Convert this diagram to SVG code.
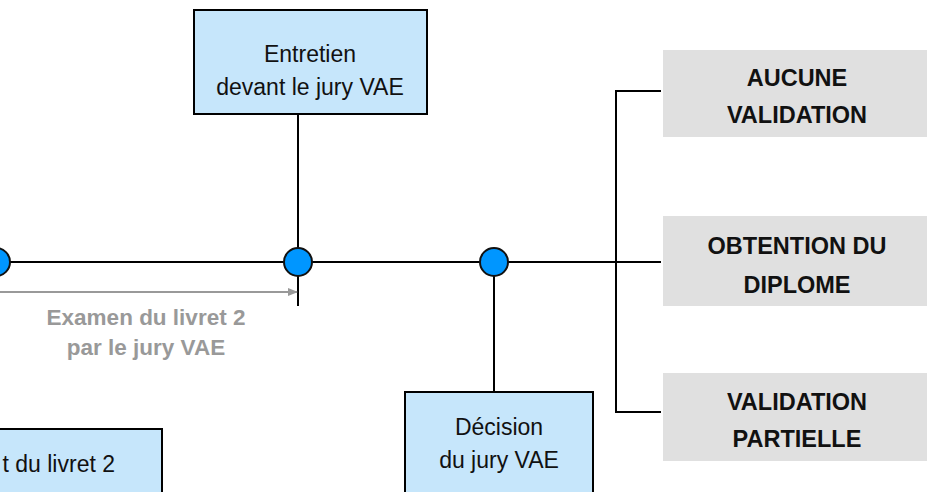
<svg xmlns="http://www.w3.org/2000/svg" width="927" height="492" viewBox="0 0 927 492">
<defs>
<style>
.blue{fill:#C6E6FB;stroke:#000;stroke-width:2}
.gray{fill:#E0E0E0;stroke:none}
.dot{fill:#0096FF;stroke:#111;stroke-width:2}
.ln{stroke:#000;stroke-width:2;fill:none}
.t{font-family:"Liberation Sans",Arial,sans-serif;font-size:23px;fill:#111;text-anchor:middle}
.b{font-family:"Liberation Sans",Arial,sans-serif;font-size:23.5px;font-weight:bold;fill:#111;text-anchor:middle}
.g{font-family:"Liberation Sans",Arial,sans-serif;font-size:22.5px;font-weight:bold;fill:#999;text-anchor:middle}
</style>
<marker id="ah" markerWidth="10" markerHeight="8" refX="9" refY="4" orient="auto" markerUnits="userSpaceOnUse">
<path d="M0,0 L10,4 L0,8 Z" fill="#999"/>
</marker>
</defs>
<rect width="927" height="492" fill="#fff"/>
<g id="connectors">
<line class="ln" x1="-5" y1="262" x2="661" y2="262"/>
<line class="ln" x1="298" y1="114" x2="298" y2="306"/>
<line class="ln" x1="494" y1="262" x2="494" y2="392"/>
<polyline class="ln" points="661,91 616,91 616,412 661,412"/>
<line x1="0" y1="292" x2="297" y2="292" stroke="#999" stroke-width="2" marker-end="url(#ah)"/>
</g>
<g id="dot1"><circle class="dot" cx="-4" cy="262" r="14"/></g>
<g id="dot2"><circle class="dot" cx="298" cy="262" r="14"/></g>
<g id="dot3"><circle class="dot" cx="494" cy="262" r="14"/></g>
<g id="entretien">
<rect class="blue" x="194" y="10" width="233" height="104"/>
<text class="t" x="310" y="62">Entretien</text>
<text class="t" x="310" y="95">devant le jury VAE</text>
</g>
<g id="examen-label">
<text class="g" x="146" y="325">Examen du livret 2</text>
<text class="g" x="146" y="355">par le jury VAE</text>
</g>
<g id="livret">
<rect class="blue" x="-10" y="429" width="172" height="80"/>
<text class="t" x="115" y="472" style="text-anchor:end">t du livret 2</text>
</g>
<g id="decision">
<rect class="blue" x="405" y="392" width="188" height="120"/>
<text class="t" x="499" y="435">Décision</text>
<text class="t" x="499" y="468">du jury VAE</text>
</g>
<g id="aucune">
<rect class="gray" x="663" y="50" width="264" height="87"/>
<text class="b" x="797" y="86">AUCUNE</text>
<text class="b" x="797" y="123">VALIDATION</text>
</g>
<g id="obtention">
<rect class="gray" x="663" y="216" width="264" height="90"/>
<text class="b" x="797" y="254">OBTENTION DU</text>
<text class="b" x="797" y="293">DIPLOME</text>
</g>
<g id="partielle">
<rect class="gray" x="663" y="373" width="264" height="88"/>
<text class="b" x="797" y="410">VALIDATION</text>
<text class="b" x="797" y="447">PARTIELLE</text>
</g>
</svg>
